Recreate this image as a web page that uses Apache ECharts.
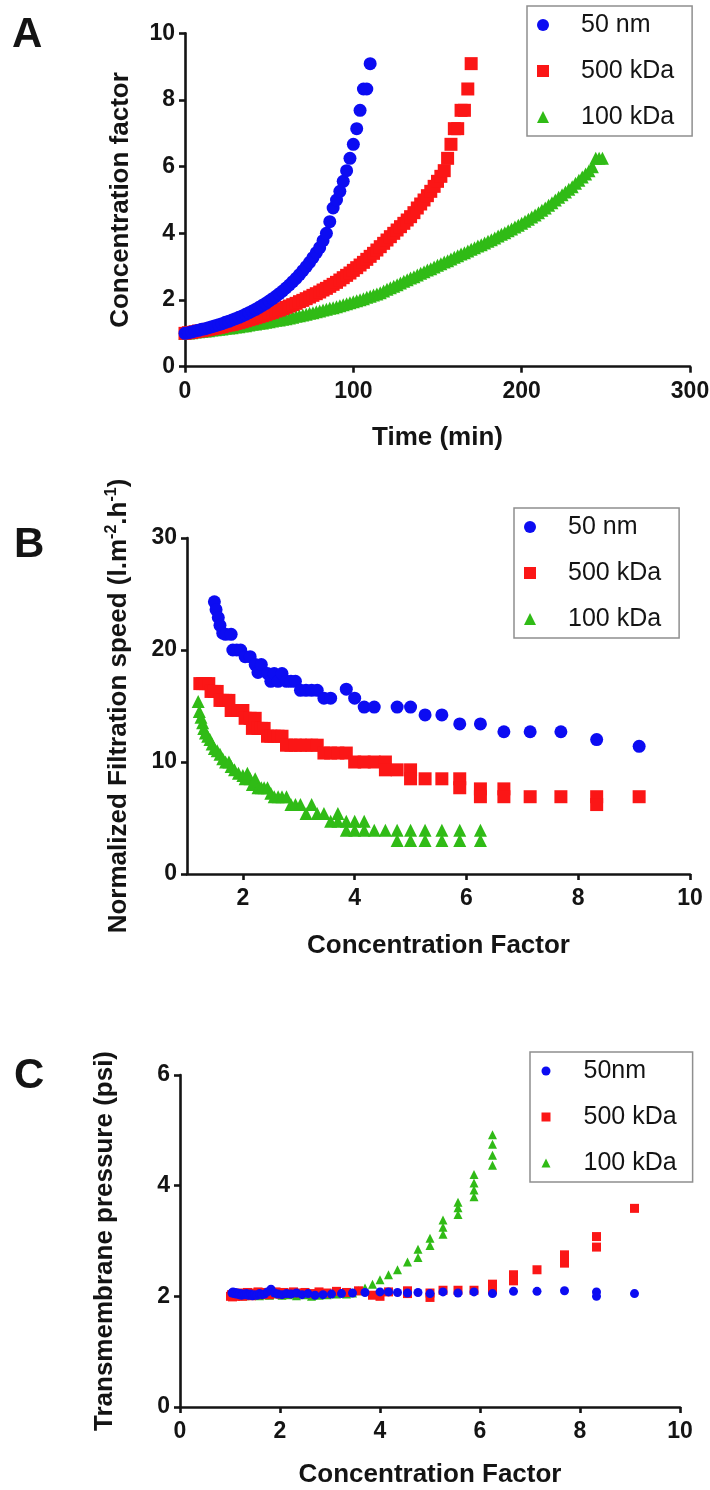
<!DOCTYPE html>
<html>
<head>
<meta charset="utf-8">
<script src="https://cdn.jsdelivr.net/npm/echarts@6/dist/echarts.min.js"></script>
<style>
html,body{margin:0;padding:0;background:#fff;}
#chart{width:710px;height:1490px;}
</style>
</head>
<body>
<div id="chart"></div>
<script>
// ---------- Panel A: Concentration factor vs Time (min) ----------
const a50nm = [[0,1.00],[2,1.02],[4,1.04],[6,1.07],[8,1.09],[10,1.12],[12,1.14],[14,1.17],[16,1.20],[18,1.23],[20,1.26],[22,1.29],[24,1.33],[26,1.36],[28,1.40],[30,1.44],[32,1.48],[34,1.52],[36,1.57],[38,1.62],[40,1.67],[42,1.72],[44,1.78],[46,1.84],[48,1.90],[50,1.97],[52,2.04],[54,2.11],[56,2.19],[58,2.27],[60,2.36],[62,2.45],[64,2.55],[66,2.65],[68,2.76],[70,2.88],[72,3.00],[74,3.13],[76,3.27],[78,3.42],[80,3.57],[82,3.78],[84,4.00],[86,4.35],[88,4.76],[90,5.00],[92,5.26],[94,5.56],[96,5.88],[98,6.25],[100,6.67],[102,7.14],[104,7.69],[106,8.33],[108,8.33],[110,9.09]];
const a500kDa = [[0,1.00],[2,1.02],[4,1.03],[6,1.05],[8,1.07],[10,1.08],[12,1.10],[14,1.12],[16,1.14],[18,1.16],[20,1.18],[22,1.20],[24,1.23],[26,1.25],[28,1.27],[30,1.30],[32,1.32],[34,1.35],[36,1.38],[38,1.41],[40,1.44],[42,1.47],[44,1.50],[46,1.53],[48,1.56],[50,1.60],[52,1.63],[54,1.67],[56,1.70],[58,1.74],[60,1.78],[62,1.82],[64,1.86],[66,1.90],[68,1.95],[70,1.99],[72,2.04],[74,2.09],[76,2.14],[78,2.19],[80,2.24],[82,2.30],[84,2.35],[86,2.41],[88,2.47],[90,2.53],[92,2.60],[94,2.67],[96,2.74],[98,2.81],[100,2.89],[102,2.97],[104,3.05],[106,3.13],[108,3.22],[110,3.31],[112,3.40],[114,3.50],[116,3.60],[118,3.70],[120,3.80],[122,3.90],[124,4.00],[126,4.10],[128,4.20],[130,4.30],[132,4.40],[134,4.50],[136,4.62],[138,4.76],[140,4.88],[142,5.00],[144,5.13],[146,5.26],[148,5.41],[150,5.56],[152,5.71],[154,5.88],[156,6.25],[158,6.67],[160,7.14],[162,7.14],[164,7.69],[166,7.69],[168,8.33],[170,9.09]];
const a100kDa = [[0,1.00],[2,1.01],[4,1.02],[6,1.04],[8,1.05],[10,1.06],[12,1.07],[14,1.08],[16,1.10],[18,1.11],[20,1.12],[22,1.13],[24,1.15],[26,1.16],[28,1.17],[30,1.19],[32,1.20],[34,1.22],[36,1.23],[38,1.25],[40,1.27],[42,1.28],[44,1.30],[46,1.31],[48,1.33],[50,1.35],[52,1.37],[54,1.39],[56,1.40],[58,1.42],[60,1.44],[62,1.46],[64,1.48],[66,1.51],[68,1.53],[70,1.55],[72,1.57],[74,1.60],[76,1.62],[78,1.65],[80,1.67],[82,1.70],[84,1.72],[86,1.75],[88,1.77],[90,1.80],[92,1.83],[94,1.86],[96,1.89],[98,1.92],[100,1.95],[102,1.98],[104,2.01],[106,2.04],[108,2.08],[110,2.11],[112,2.15],[114,2.18],[116,2.22],[118,2.27],[120,2.32],[122,2.37],[124,2.41],[126,2.46],[128,2.51],[130,2.56],[132,2.61],[134,2.66],[136,2.70],[138,2.75],[140,2.80],[142,2.85],[144,2.90],[146,2.94],[148,2.99],[150,3.04],[152,3.09],[154,3.14],[156,3.18],[158,3.23],[160,3.28],[162,3.33],[164,3.38],[166,3.42],[168,3.47],[170,3.52],[172,3.57],[174,3.62],[176,3.66],[178,3.71],[180,3.76],[182,3.81],[184,3.86],[186,3.92],[188,3.97],[190,4.02],[192,4.08],[194,4.13],[196,4.19],[198,4.24],[200,4.30],[202,4.36],[204,4.42],[206,4.49],[208,4.55],[210,4.62],[212,4.69],[214,4.76],[216,4.84],[218,4.92],[220,5.00],[222,5.08],[224,5.16],[226,5.24],[228,5.32],[230,5.40],[232,5.50],[234,5.59],[236,5.69],[238,5.78],[240,5.88],[242,6.00],[244,6.25],[246,6.25],[248,6.25]];
const aXTicks = [0, 300, 100];   // min, max, interval
const aYTicks = [0, 10, 2];

// ---------- Panel B: Normalized filtration speed vs Concentration factor ----------
const b50nm = [[1.49,24.3],[1.52,23.6],[1.56,22.9],[1.59,22.2],[1.64,21.5],[1.69,21.4],[1.79,21.4],[1.82,20.0],[1.89,20.0],[1.96,20.0],[2.04,19.4],[2.13,19.4],[2.22,18.7],[2.27,18.0],[2.33,18.7],[2.44,17.9],[2.50,17.2],[2.56,17.9],[2.63,17.2],[2.70,17.9],[2.78,17.2],[2.86,17.2],[2.94,17.2],[3.03,16.4],[3.13,16.4],[3.23,16.4],[3.33,16.4],[3.45,15.7],[3.57,15.7],[3.85,16.5],[4.00,15.7],[4.17,14.9],[4.35,14.9],[4.76,14.9],[5.00,14.9],[5.26,14.2],[5.56,14.2],[5.88,13.4],[6.25,13.4],[6.67,12.7],[7.14,12.7],[7.69,12.7],[8.33,12.0],[9.09,11.4]];
const b500kDa = [[1.23,17.0],[1.28,17.0],[1.33,17.0],[1.39,17.0],[1.43,16.3],[1.49,16.3],[1.54,16.3],[1.59,15.5],[1.64,15.5],[1.69,15.5],[1.75,15.5],[1.79,14.6],[1.85,14.6],[1.92,14.6],[2.00,14.6],[2.04,13.9],[2.13,13.9],[2.17,13.0],[2.22,13.9],[2.27,13.0],[2.33,13.0],[2.38,13.0],[2.44,12.3],[2.50,12.3],[2.56,12.3],[2.63,12.3],[2.70,12.3],[2.78,11.5],[2.86,11.5],[2.94,11.5],[3.03,11.5],[3.13,11.5],[3.23,11.5],[3.33,11.5],[3.45,10.8],[3.57,10.8],[3.70,10.8],[3.85,10.8],[4.00,10.0],[4.17,10.0],[4.35,10.0],[4.55,10.0],[4.55,9.3],[4.76,9.3],[5.00,9.3],[5.00,8.5],[5.26,8.5],[5.56,8.5],[5.88,8.5],[5.88,7.7],[6.25,7.6],[6.25,6.9],[6.67,7.6],[6.67,6.9],[7.14,6.9],[7.69,6.9],[8.33,6.9],[8.33,6.2],[9.09,6.9]];
const b100kDa = [[1.20,15.4],[1.22,14.5],[1.25,14.0],[1.28,13.5],[1.30,13.0],[1.33,12.6],[1.37,12.3],[1.41,12.0],[1.45,11.6],[1.49,11.2],[1.54,11.0],[1.59,10.7],[1.64,10.3],[1.69,10.0],[1.75,10.0],[1.79,9.6],[1.85,9.3],[1.92,9.0],[2.00,8.8],[2.04,8.5],[2.08,9.0],[2.13,8.5],[2.17,8.0],[2.22,8.5],[2.27,7.7],[2.33,7.7],[2.38,7.7],[2.44,7.7],[2.50,7.2],[2.56,6.9],[2.63,6.9],[2.70,6.9],[2.78,6.9],[2.86,6.2],[2.94,6.2],[3.03,6.2],[3.13,5.4],[3.23,6.2],[3.33,5.4],[3.45,5.4],[3.57,4.7],[3.70,5.4],[3.70,4.7],[3.85,4.7],[3.85,3.9],[4.00,4.7],[4.00,3.9],[4.17,4.7],[4.17,3.9],[4.35,3.9],[4.55,3.9],[4.76,3.9],[4.76,3.0],[5.00,3.9],[5.00,3.0],[5.26,3.9],[5.26,3.0],[5.56,3.9],[5.56,3.0],[5.88,3.9],[5.88,3.0],[6.25,3.9],[6.25,3.0]];
const bXTickValues = [2, 4, 6, 8, 10];
const bXRange = [1, 10];
const bYTicks = [0, 30, 10];

// ---------- Panel C: Transmembrane pressure vs Concentration factor ----------
const cCF50nm  = [1.04,1.06,1.08,1.10,1.12,1.15,1.18,1.20,1.23,1.26,1.30,1.33,1.37,1.41,1.45,1.49,1.54,1.59,1.64,1.69,1.75,1.82,1.89,1.96,2.04,2.13,2.22,2.33,2.44,2.56,2.70,2.86,3.03,3.23,3.45,3.70,4.00,4.17,4.35,4.55,4.76,5.00,5.26,5.56,5.88,6.25,6.67,7.14,7.69,8.33,8.33,9.09];
const cTMP50nm = [2.06,2.08,2.05,2.07,2.04,2.06,2.03,2.05,2.02,2.04,2.03,2.05,2.02,2.04,2.01,2.03,2.02,2.05,2.03,2.04,2.08,2.13,2.06,2.04,2.03,2.05,2.04,2.06,2.03,2.05,2.02,2.03,2.04,2.05,2.06,2.07,2.08,2.08,2.07,2.06,2.07,2.05,2.08,2.06,2.08,2.05,2.09,2.09,2.10,2.08,2.00,2.05];
const cCF500kDa  = [1.01,1.03,1.05,1.07,1.09,1.11,1.14,1.16,1.19,1.22,1.25,1.28,1.32,1.35,1.39,1.43,1.47,1.52,1.56,1.61,1.67,1.72,1.79,1.85,1.92,2.00,2.08,2.17,2.27,2.38,2.50,2.63,2.78,2.94,3.13,3.33,3.57,3.85,4.00,4.17,4.55,4.55,5.00,5.00,5.26,5.56,5.88,6.25,6.25,6.67,6.67,7.14,7.69,7.69,8.33,8.33,9.09];
const cTMP500kDa = [2.00,2.03,1.99,2.05,2.02,2.00,2.04,2.01,2.06,2.03,2.00,2.05,2.02,2.07,2.03,2.01,2.06,2.04,2.08,2.03,2.05,2.07,2.03,2.06,2.08,2.04,2.07,2.05,2.08,2.06,2.07,2.05,2.08,2.06,2.09,2.07,2.10,2.02,2.00,2.08,2.10,2.05,2.06,1.98,2.11,2.11,2.11,2.22,2.12,2.39,2.28,2.48,2.75,2.60,3.08,2.89,3.59];
const cCF100kDa  = [1.20,1.25,1.30,1.37,1.43,1.50,1.59,1.69,1.79,1.92,2.04,2.17,2.33,2.50,2.63,2.78,2.94,3.13,3.33,3.45,3.57,3.70,3.85,4.00,4.17,4.35,4.55,4.76,4.76,5.00,5.00,5.26,5.26,5.26,5.56,5.56,5.56,5.88,5.88,5.88,5.88,6.25,6.25,6.25,6.25];
const cTMP100kDa = [2.02,2.03,2.01,2.04,2.02,2.03,2.01,2.03,2.02,2.04,2.02,2.03,2.01,2.03,2.00,2.02,2.03,2.04,2.04,2.06,2.10,2.15,2.22,2.30,2.39,2.48,2.62,2.70,2.85,2.92,3.05,3.12,3.25,3.38,3.48,3.60,3.70,3.80,3.92,4.05,4.20,4.37,4.55,4.75,4.92];
const cXTicks = [0, 10, 2];
const cYTicks = [0, 6, 2];

const legendAB = ['50 nm', '500 kDa', '100 kDa'];
const legendC = ['50nm', '500 kDa', '100 kDa'];

// ---------- styling ----------
const FONT = '"Liberation Sans", Arial, Helvetica, sans-serif';
const INK = '#141414';
const BLUE = '#0c0cf2';
const RED = '#fb1616';
const GREEN = '#30bb16';

function zip(xs, ys) { return xs.map((x, i) => [x, ys[i]]); }

function axisCommon(gridIndex, name, nameGap) {
  return {
    type: 'value',
    gridIndex: gridIndex,
    name: name,
    nameLocation: 'middle',
    nameGap: nameGap,
    nameTextStyle: { fontFamily: FONT, fontWeight: 'bold', fontSize: 26, color: INK },
    splitLine: { show: false },
    axisLine: { show: true, onZero: false, lineStyle: { color: INK, width: 2.6 } },
    axisTick: { show: true, inside: false, length: 6, lineStyle: { color: INK, width: 2.6 } },
    axisLabel: { fontFamily: FONT, fontWeight: 'bold', fontSize: 23, color: INK, margin: 12 }
  };
}

function xAx(gridIndex, t, name, gap) {
  const a = axisCommon(gridIndex, name, gap);
  a.min = t[0]; a.max = t[1]; a.interval = t[2];
  a.axisLabel.margin = 13;
  return a;
}
function yAx(gridIndex, t, name, gap) {
  const a = axisCommon(gridIndex, name, gap);
  a.min = t[0]; a.max = t[1]; a.interval = t[2];
  a.axisLabel.margin = 10;
  return a;
}

const xA = xAx(0, aXTicks, 'Time (min)', 58);
const yA = yAx(0, aYTicks, 'Concentration factor', 51);

const xB = xAx(1, [bXRange[0], bXRange[1], 1], 'Concentration Factor', 59);
xB.axisTick.customValues = bXTickValues;
xB.axisLabel.customValues = bXTickValues;
const yB = yAx(1, bYTicks, '{t|Normalized Filtration speed (l.m}{s|-2}{t|.h}{s|-1}{t|)}', 53);
yB.nameTextStyle = {
  fontFamily: FONT, fontWeight: 'bold', fontSize: 26, color: INK, lineHeight: 30,
  rich: {
    t: { fontFamily: FONT, fontWeight: 'bold', fontSize: 26, color: INK, lineHeight: 30 },
    s: { fontFamily: FONT, fontWeight: 'bold', fontSize: 16, color: INK, lineHeight: 18, verticalAlign: 'top' }
  }
};

const xC = xAx(2, cXTicks, 'Concentration Factor', 55);
const yC = yAx(2, cYTicks, 'Transmembrane pressure (psi)', 62);

function sc(name, data, xi, symbol, size, color, z) {
  return {
    type: 'scatter', name: name, data: data,
    xAxisIndex: xi, yAxisIndex: xi,
    symbol: symbol, symbolSize: size,
    itemStyle: { color: color, opacity: 1 },
    z: z, silent: true
  };
}

function legendBox(names, left, top, iconSize, textLeftPad, rightPad) {
  return {
    data: names,
    orient: 'vertical',
    left: left, top: top,
    itemWidth: iconSize, itemHeight: iconSize,
    itemGap: 20,
    padding: [6, rightPad, 6, 10 + (12 - iconSize) / 2],
    borderColor: '#8f8f8f', borderWidth: 1.5, borderRadius: 0,
    backgroundColor: '#fff',
    selectedMode: false,
    textStyle: { fontFamily: FONT, fontSize: 25, color: INK, padding: [0, 0, 0, textLeftPad], lineHeight: 26 }
  };
}

const option = {
  animation: false,
  backgroundColor: '#ffffff',
  textStyle: { fontFamily: FONT },
  grid: [
    { left: 185, top: 33.3, width: 505, height: 333.4, outerBoundsMode: 'none' },
    { left: 187, top: 538, width: 503, height: 336, outerBoundsMode: 'none' },
    { left: 180, top: 1075, width: 500, height: 332, outerBoundsMode: 'none' }
  ],
  xAxis: [xA, xB, xC],
  yAxis: [yA, yB, yC],
  legend: [
    legendBox(legendAB, 527, 6, 12, 27, 18),
    legendBox(legendAB, 514, 508, 12, 27, 18),
    legendBox(legendC, 530, 1052, 9, 28, 16)
  ],
  graphic: [
    { type: 'text', left: 12, top: 14, style: { text: 'A', fontFamily: FONT, fontWeight: 'bold', fontSize: 42, fill: INK } },
    { type: 'text', left: 14, top: 524, style: { text: 'B', fontFamily: FONT, fontWeight: 'bold', fontSize: 42, fill: INK } },
    { type: 'text', left: 14, top: 1055, style: { text: 'C', fontFamily: FONT, fontWeight: 'bold', fontSize: 42, fill: INK } }
  ],
  series: [
    sc('100 kDa', a100kDa, 0, 'triangle', 13, GREEN, 2),
    sc('500 kDa', a500kDa, 0, 'rect', 13, RED, 3),
    sc('50 nm', a50nm, 0, 'circle', 13, BLUE, 4),

    sc('100 kDa', b100kDa, 1, 'triangle', 13, GREEN, 2),
    sc('500 kDa', b500kDa, 1, 'rect', 13, RED, 3),
    sc('50 nm', b50nm, 1, 'circle', 13, BLUE, 4),

    sc('100 kDa', zip(cCF100kDa, cTMP100kDa), 2, 'triangle', 9, GREEN, 2),
    sc('500 kDa', zip(cCF500kDa, cTMP500kDa), 2, 'rect', 9, RED, 3),
    sc('50nm', zip(cCF50nm, cTMP50nm), 2, 'circle', 9, BLUE, 4)
  ]
};

const chart = echarts.init(document.getElementById('chart'), null, { renderer: 'canvas', width: 710, height: 1490 });
chart.setOption(option);
</script>
</body>
</html>
